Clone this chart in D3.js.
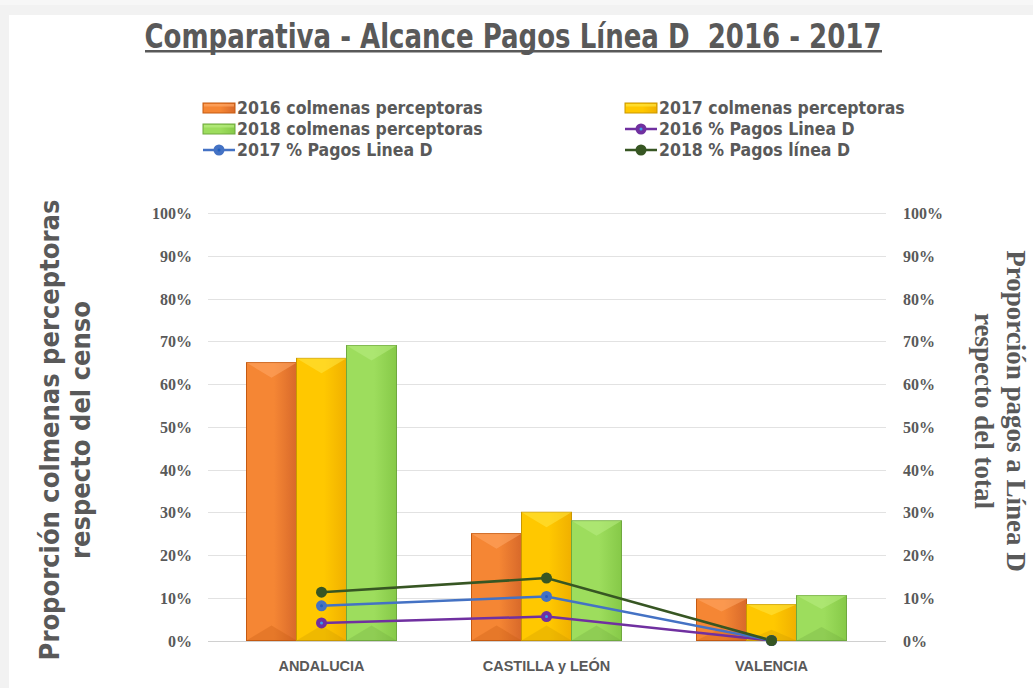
<!DOCTYPE html>
<html>
<head>
<meta charset="utf-8">
<script src="https://cdn.jsdelivr.net/npm/d3@7"></script>
<style>
	body { margin: 0; background: #f2f2f2; }
	svg { display: block; }
</style>
</head>
<body>
<svg class="alcance-chart" width="1033" height="688"></svg>
<script>
// data
let regiones = ['ANDALUCIA', 'CASTILLA y LEÓN', 'VALENCIA'];
let colmenas2016 = [0.65, 0.25, 0.097];
let colmenas2017 = [0.66, 0.30, 0.084];
let colmenas2018 = [0.69, 0.28, 0.105];
let pagos2016 = [0.041, 0.056, 0.0];
let pagos2017 = [0.081, 0.103, 0.0];
let pagos2018 = [0.113, 0.146, 0.0];
let ticks = [0, 0.1, 0.2, 0.3, 0.4, 0.5, 0.6, 0.7, 0.8, 0.9, 1];

let barSeries = [
	{ name: '2016 colmenas perceptoras', values: colmenas2016, light: '#ffa866', mid: '#f58634', dark: '#d8692a', edge: '#c55a11' },
	{ name: '2017 colmenas perceptoras', values: colmenas2017, light: '#ffe640', mid: '#ffc800', dark: '#f0b000', edge: '#c99700' },
	{ name: '2018 colmenas perceptoras', values: colmenas2018, light: '#b8ec82', mid: '#9ddd5d', dark: '#86c948', edge: '#6fa83f' }
];
let lineSeries = [
	{ name: '2016 % Pagos Linea D', values: pagos2016, color: '#7030a0', dot: '#3aa0e8' },
	{ name: '2017 % Pagos Linea D', values: pagos2017, color: '#4472c4', dot: '#1f5fc0' },
	{ name: '2018 % Pagos línea D', values: pagos2018, color: '#375623', dot: null }
];

let grey = '#595959';
let plot = { left: 209, right: 884, top: 213, bottom: 640.5 };
let narrow = '"Liberation Sans Narrow", "DejaVu Sans Condensed", sans-serif';

let svg = d3.select('.alcance-chart');

// page background panel
svg.append('rect').attr('x', 0).attr('y', 0).attr('width', 1033).attr('height', 5).attr('fill', '#f7f7f7');
svg.append('rect').attr('x', 9).attr('y', 15).attr('width', 1024).attr('height', 673).attr('fill', '#ffffff');

let x = d3.scaleBand().domain(regiones).range([plot.left, plot.right]).paddingInner(1 / 3).paddingOuter(1 / 6);
let xs = d3.scaleBand().domain(d3.range(barSeries.length)).range([0, x.bandwidth()]).padding(0);
let y = d3.scaleLinear().domain([0, 1]).range([plot.bottom, plot.top]);
let yRight = d3.scaleLinear().domain([0, 1]).range([plot.bottom, plot.top]);

// gradients for bars
let defs = svg.append('defs');
barSeries.forEach(function(s, i) {
	let grad = defs.append('linearGradient').attr('id', 'grad' + i).attr('x1', 0).attr('x2', 1).attr('y1', 0).attr('y2', 0);
	grad.append('stop').attr('offset', '0%').attr('stop-color', s.mid);
	grad.append('stop').attr('offset', '55%').attr('stop-color', s.mid);
	grad.append('stop').attr('offset', '100%').attr('stop-color', s.dark);
});

// title
svg.append('text')
	.attr('x', 513).attr('y', 48)
	.attr('text-anchor', 'middle')
	.attr('textLength', 737).attr('lengthAdjust', 'spacingAndGlyphs')
	.style('font-family', narrow)
	.style('font-weight', 'bold').style('font-size', '34px')
	.style('fill', grey)
	.style('white-space', 'pre')
	.text('Comparativa - Alcance Pagos Línea D  2016 - 2017');
svg.append('rect').attr('x', 145).attr('y', 50).attr('width', 737).attr('height', 2.5).attr('fill', grey);

// gridlines
let g = svg.append('g');
g.selectAll('.grid')
	.data(ticks)
	.enter()
	.append('line')
	.attr('x1', plot.left - 1).attr('x2', plot.right + 2)
	.attr('y1', function(d) { return Math.round(y(d)) + 0.5; })
	.attr('y2', function(d) { return Math.round(y(d)) + 0.5; })
	.attr('stroke', function(d) { return d === 0 ? '#d0d0d0' : '#e2e2e2'; })
	.attr('stroke-width', 1);

// axes
let tickFont = '"Liberation Serif", "DejaVu Serif", serif';
let leftAxis = g.append('g')
	.attr('transform', 'translate(' + (plot.left - 14) + ',0)')
	.call(d3.axisLeft(y).tickValues(ticks).tickFormat(d3.format('.0%')).tickSize(0));
let rightAxis = g.append('g')
	.attr('transform', 'translate(' + (plot.right + 16) + ',0)')
	.call(d3.axisRight(yRight).tickValues(ticks).tickFormat(d3.format('.0%')).tickSize(0));
[leftAxis, rightAxis].forEach(function(ax) {
	ax.select('.domain').remove();
	ax.selectAll('text')
		.style('font-family', tickFont).style('font-weight', 'bold').style('font-size', '16px')
		.style('fill', grey).attr('dy', '0.35em');
});

let xAxis = g.append('g')
	.attr('transform', 'translate(0,' + plot.bottom + ')')
	.call(d3.axisBottom(x).tickSize(0).tickPadding(20));
xAxis.select('.domain').remove();
xAxis.selectAll('text')
	.style('font-family', '"Liberation Sans", Arial, sans-serif').style('font-weight', 'bold').style('font-size', '14.5px')
	.style('fill', grey);

// bars
let groups = g.selectAll('.region')
	.data(regiones)
	.enter()
	.append('g')
	.attr('class', 'region')
	.attr('transform', function(d) { return 'translate(' + x(d) + ',0)'; });

barSeries.forEach(function(s, i) {
	let bars = groups.append('g').attr('class', 'bar');
	bars.append('rect')
		.attr('x', function() { return xs(i); })
		.attr('y', function(d, j) { return y(s.values[j]); })
		.attr('width', xs.bandwidth())
		.attr('height', function(d, j) { return plot.bottom - y(s.values[j]); })
		.attr('fill', 'url(#grad' + i + ')')
		.attr('stroke', s.edge).attr('stroke-width', 1);
	// bevel top
	bars.append('path')
		.attr('d', function(d, j) {
			let x0 = xs(i), w = xs.bandwidth(), top = y(s.values[j]);
			let h = Math.min(w / 2, (plot.bottom - top) / 2);
			return 'M' + x0 + ',' + top + 'L' + (x0 + w) + ',' + top + 'L' + (x0 + w / 2) + ',' + (top + h * 0.6) + 'Z';
		})
		.attr('fill', s.light).attr('opacity', 0.55);
	// bevel bottom
	bars.append('path')
		.attr('d', function(d, j) {
			let x0 = xs(i), w = xs.bandwidth(), top = y(s.values[j]);
			let h = Math.min(w / 2, (plot.bottom - top) / 2);
			return 'M' + x0 + ',' + plot.bottom + 'L' + (x0 + w) + ',' + plot.bottom + 'L' + (x0 + w / 2) + ',' + (plot.bottom - h * 0.6) + 'Z';
		})
		.attr('fill', s.edge).attr('opacity', 0.3);
});

// lines
let lineGen = d3.line()
	.x(function(d, i) { return x(regiones[i]) + x.bandwidth() / 2; })
	.y(function(d) { return yRight(d); });

lineSeries.forEach(function(s) {
	g.append('path')
		.datum(s.values)
		.attr('d', lineGen)
		.attr('fill', 'none')
		.attr('stroke', s.color).attr('stroke-width', 2.5);
});
lineSeries.forEach(function(s) {
	let pts = g.selectAll(null)
		.data(s.values)
		.enter()
		.append('g')
		.attr('transform', function(d, i) { return 'translate(' + (x(regiones[i]) + x.bandwidth() / 2) + ',' + yRight(d) + ')'; });
	pts.append('circle').attr('r', 5.5).attr('fill', s.color);
	if (s.dot) {
		pts.append('circle').attr('r', 1.5).attr('fill', s.dot);
	}
});

// legend
let legendItems = [
	{ item: barSeries[0], type: 'bar', col: 0, row: 0 },
	{ item: barSeries[1], type: 'bar', col: 1, row: 0 },
	{ item: barSeries[2], type: 'bar', col: 0, row: 1 },
	{ item: lineSeries[0], type: 'line', col: 1, row: 1 },
	{ item: lineSeries[1], type: 'line', col: 0, row: 2 },
	{ item: lineSeries[2], type: 'line', col: 1, row: 2 }
];
let legend = svg.append('g');
let legendX = [203, 625];
let legendY = [108, 129, 150];
legendItems.forEach(function(l) {
	let lg = legend.append('g').attr('transform', 'translate(' + legendX[l.col] + ',' + legendY[l.row] + ')');
	if (l.type === 'bar') {
		let gi = barSeries.indexOf(l.item);
		lg.append('rect').attr('x', 0).attr('y', -5).attr('width', 32).attr('height', 10)
			.attr('fill', 'url(#grad' + gi + ')').attr('stroke', l.item.edge).attr('stroke-width', 1);
		lg.append('rect').attr('x', 1).attr('y', -4).attr('width', 30).attr('height', 2.5).attr('fill', l.item.light).attr('opacity', 0.7);
	} else {
		lg.append('line').attr('x1', 0).attr('x2', 32).attr('y1', 0).attr('y2', 0)
			.attr('stroke', l.item.color).attr('stroke-width', 2.5);
		lg.append('circle').attr('cx', 16).attr('cy', 0).attr('r', 5.5).attr('fill', l.item.color);
		if (l.item.dot) {
			lg.append('circle').attr('cx', 16).attr('cy', 0).attr('r', 1.5).attr('fill', l.item.dot);
		}
	}
	lg.append('text')
		.attr('x', 34).attr('y', 0).attr('dy', '0.35em')
		.style('font-family', narrow)
		.style('font-weight', 'bold').style('font-size', '17.5px')
		.style('fill', grey)
		.text(l.item.name);
});

// axis titles
let leftTitle = svg.append('text')
	.attr('transform', 'translate(0,430) rotate(-90)')
	.attr('text-anchor', 'middle')
	.style('font-family', narrow)
	.style('font-weight', 'bold').style('font-size', '27px')
	.style('fill', grey);
leftTitle.append('tspan').attr('x', 0).attr('y', 59).text('Proporción colmenas perceptoras');
leftTitle.append('tspan').attr('x', 0).attr('y', 90).text('respecto del censo');

let rightTitle = svg.append('text')
	.attr('transform', 'translate(0,411) rotate(90)')
	.attr('text-anchor', 'middle')
	.style('font-family', '"Liberation Serif", "DejaVu Serif", serif')
	.style('font-weight', 'bold').style('font-size', '27px')
	.style('fill', grey);
rightTitle.append('tspan').attr('x', 0).attr('y', -1007).text('Proporción pagos a Línea D');
rightTitle.append('tspan').attr('x', 0).attr('y', -975).text('respecto del total');
</script>
</body>
</html>
